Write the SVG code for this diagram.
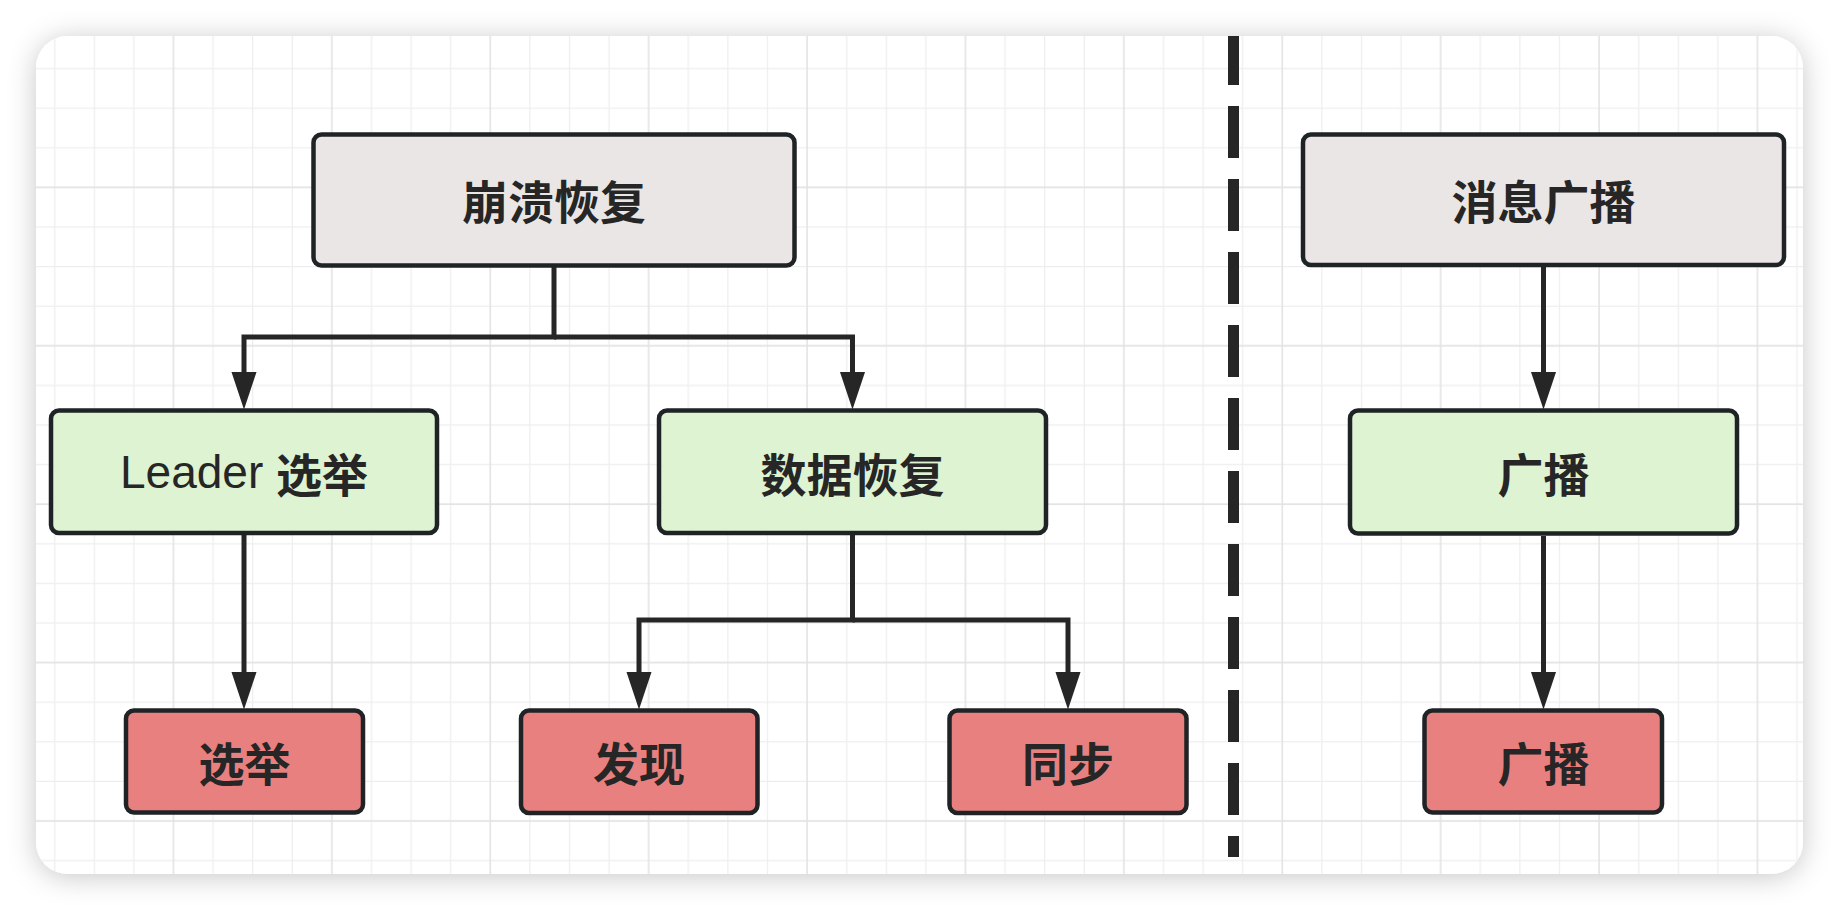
<svg xmlns="http://www.w3.org/2000/svg" width="1840" height="912" viewBox="0 0 1840 912">
  <style>
    .box { stroke: #1f2326; stroke-width: 4.5; }
    .gray { fill: #eae6e5; }
    .green { fill: #def3d2; }
    .red { fill: #e98080; }
    .lbl { font-family: "Noto Sans CJK SC", "Liberation Sans", sans-serif; font-size: 46px; font-weight: 700; fill: #262626; text-anchor: middle; dominant-baseline: central; }
    .latin { font-family: "Liberation Sans", "Noto Sans CJK SC", sans-serif; font-weight: 400; }
    .conn { fill: none; stroke: #262626; stroke-width: 5; }
    .minor { stroke: #eeeeee; stroke-width: 1.2; }
    .major { stroke: #e3e3e3; stroke-width: 1.6; }
  </style>
  <defs>
    <filter id="shadow" x="-10%" y="-10%" width="120%" height="120%">
      <feDropShadow dx="0" dy="3" stdDeviation="14" flood-color="#000" flood-opacity="0.22"/>
    </filter>
    <pattern id="grid" patternUnits="userSpaceOnUse" x="34.9" y="48.8" width="158.4" height="158.4">
      <line class="minor" x1="19.8" y1="0" x2="19.8" y2="158.4"/>
      <line class="minor" x1="59.4" y1="0" x2="59.4" y2="158.4"/>
      <line class="minor" x1="99" y1="0" x2="99" y2="158.4"/>
      <line class="minor" x1="0" y1="19.8" x2="158.4" y2="19.8"/>
      <line class="minor" x1="0" y1="59.4" x2="158.4" y2="59.4"/>
      <line class="minor" x1="0" y1="99" x2="158.4" y2="99"/>
      <line class="major" x1="138.6" y1="0" x2="138.6" y2="158.4"/>
      <line class="major" x1="0" y1="138.6" x2="158.4" y2="138.6"/>
    </pattern>
    <marker id="arrow" markerUnits="userSpaceOnUse" markerWidth="40" markerHeight="30" viewBox="0 -13 38 26" refX="6" refY="0" orient="auto">
      <path d="M0,-12 L36,0 L0,12 z" fill="#262626"/>
    </marker>
  </defs>

  <rect x="0" y="0" width="1840" height="912" fill="#ffffff"/>
  <rect x="36" y="36" width="1767" height="838" rx="32" ry="32" fill="#ffffff" filter="url(#shadow)"/>
  <rect x="36" y="36" width="1767" height="838" rx="32" ry="32" fill="url(#grid)"/>

  <line x1="1233.5" y1="36" x2="1233.5" y2="857" stroke="#262626" stroke-width="11" stroke-dasharray="52 21" stroke-dashoffset="3"/>

  <g id="connectors">
    <path class="conn" d="M554,267 V337 H244 V378" marker-end="url(#arrow)"/>
    <path class="conn" d="M554,337 H852.5 V378" marker-end="url(#arrow)"/>
    <path class="conn" d="M244,535 V678" marker-end="url(#arrow)"/>
    <path class="conn" d="M852.5,535 V620 H639 V678" marker-end="url(#arrow)"/>
    <path class="conn" d="M852.5,620 H1068 V678" marker-end="url(#arrow)"/>
    <path class="conn" d="M1543.5,267 V378" marker-end="url(#arrow)"/>
    <path class="conn" d="M1543.5,536 V678" marker-end="url(#arrow)"/>
  </g>

  <g id="crash-recovery">
    <rect class="box gray" x="313.5" y="134.5" width="481" height="131" rx="8"/>
    <text class="lbl" x="554" y="199">崩溃恢复</text>
  </g>
  <g id="leader-election">
    <rect class="box green" x="51" y="410.5" width="386" height="122.5" rx="8"/>
    <text class="lbl" x="244" y="471.5"><tspan class="latin">Leader </tspan>选举</text>
  </g>
  <g id="data-recovery">
    <rect class="box green" x="659" y="410.5" width="387" height="122.5" rx="8"/>
    <text class="lbl" x="852.5" y="471.5">数据恢复</text>
  </g>
  <g id="election">
    <rect class="box red" x="126" y="710.5" width="237" height="102" rx="8"/>
    <text class="lbl" x="244.5" y="761">选举</text>
  </g>
  <g id="discovery">
    <rect class="box red" x="521" y="710.5" width="236.5" height="102.5" rx="8"/>
    <text class="lbl" x="639" y="761">发现</text>
  </g>
  <g id="sync">
    <rect class="box red" x="949.5" y="710.5" width="237" height="102.5" rx="8"/>
    <text class="lbl" x="1068" y="761">同步</text>
  </g>
  <g id="message-broadcast">
    <rect class="box gray" x="1303" y="134.5" width="481" height="130.5" rx="8"/>
    <text class="lbl" x="1543.5" y="199">消息广播</text>
  </g>
  <g id="broadcast-green">
    <rect class="box green" x="1350" y="410.5" width="387" height="123" rx="8"/>
    <text class="lbl" x="1543.5" y="472">广播</text>
  </g>
  <g id="broadcast-red">
    <rect class="box red" x="1424.5" y="710.5" width="237.5" height="102" rx="8"/>
    <text class="lbl" x="1543.5" y="761">广播</text>
  </g>
</svg>
